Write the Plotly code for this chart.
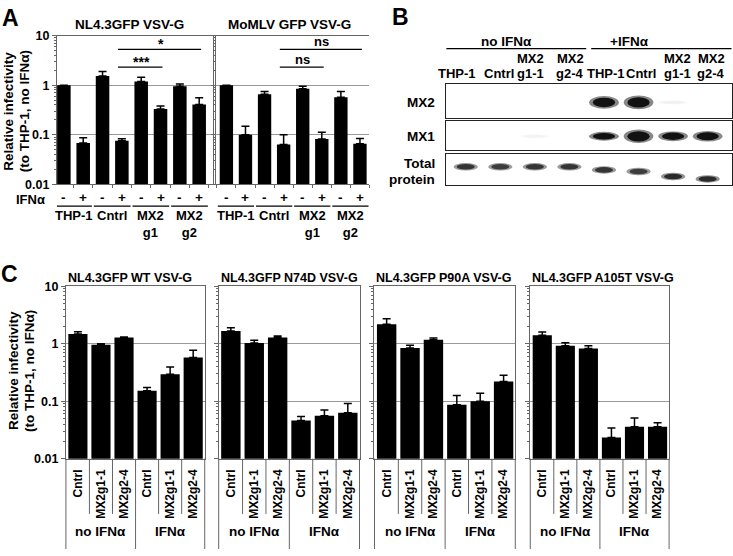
import plotly.graph_objects as go

W, H = 733, 556


def X(px):
    return px / W


def Y(py):
    return 1 - py / H


# ------------------------------------------------------------------ data
# Panel A
a_titles = ["NL4.3GFP VSV-G", "MoMLV GFP VSV-G"]
a_ifn = ["-", "+", "-", "+", "-", "+", "-", "+"]
a_groups = ["THP-1", "Cntrl", "MX2<br>g1", "MX2<br>g2"]
a_nl43_vals = [1.0, 0.068, 1.53, 0.076, 1.18, 0.33, 0.95, 0.41]
a_nl43_err = [0.0, 0.019, 0.36, 0.007, 0.26, 0.05, 0.11, 0.15]
a_momlv_vals = [1.0, 0.10, 0.656, 0.064, 0.85, 0.082, 0.573, 0.066]
a_momlv_err = [0.0, 0.048, 0.094, 0.036, 0.105, 0.031, 0.177, 0.018]
# significance: (from bar, to bar, label, level)
a_nl43_sig = [(3, 7, "*", 0), (3, 5, "***", 1)]
a_momlv_sig = [(3, 7, "ns", 0), (3, 5, "ns", 1)]

# Panel B (western blot, band darkness 0..1)
b_lanes = ["THP-1", "Cntrl", "g1-1", "g2-4", "THP-1", "Cntrl", "g1-1", "g2-4"]
b_lanes_top = ["", "", "MX2", "MX2", "", "", "MX2", "MX2"]
b_mx2 = [0.0, 0.0, 0.0, 0.0, 1.0, 1.0, 0.06, 0.0]
b_mx2_thick = [12, 12, 12, 12, 13, 14, 4, 12]
b_mx1 = [0.0, 0.0, 0.05, 0.0, 1.0, 1.0, 1.0, 1.0]
b_mx1_thick = [8, 8, 4, 8, 9, 14, 10, 11]
b_total = [0.85, 0.82, 0.85, 0.85, 0.85, 0.82, 0.9, 0.9]
b_total_pos = [0.58, 0.58, 0.58, 0.58, 0.48, 0.43, 0.27, 0.19]

# Panel C
c_titles = ["NL4.3GFP WT VSV-G", "NL4.3GFP N74D VSV-G",
            "NL4.3GFP P90A VSV-G", "NL4.3GFP A105T VSV-G"]
c_cats = ["Cntrl", "MX2g1-1", "MX2g2-4", "Cntrl", "MX2g1-1", "MX2g2-4"]
c_groups = ["no IFNα", "IFNα"]
c_vals = [
    [1.48, 0.96, 1.28, 0.152, 0.294, 0.578],
    [1.66, 1.03, 1.28, 0.046, 0.056, 0.063],
    [2.18, 0.845, 1.17, 0.087, 0.100, 0.221],
    [1.40, 0.925, 0.83, 0.0233, 0.036, 0.036],
]
c_err = [
    [0.14, 0.04, 0.03, 0.021, 0.10, 0.19],
    [0.23, 0.12, 0.08, 0.008, 0.014, 0.028],
    [0.54, 0.10, 0.09, 0.038, 0.038, 0.062],
    [0.20, 0.115, 0.095, 0.011, 0.015, 0.006],
]

# ------------------------------------------------------------------ style
AXC = "#666666"
GRIDC = "#9a9a9a"
FONT = "Liberation Sans, Arial, sans-serif"
minor_vals = [m * 10.0 ** e for e in (-2, -1, 0) for m in range(2, 10)]

fig = go.Figure()
layout = dict(
    width=W, height=H, margin=dict(l=0, r=0, t=0, b=0),
    paper_bgcolor="white", plot_bgcolor="white", showlegend=False,
    font=dict(family=FONT, size=12, color="black", weight="bold"),
)
annotations = []
shapes = []


def ann(text, x, y, xref="paper", yref="paper", size=13, angle=0,
        xanchor="center", yanchor="middle"):
    annotations.append(dict(text=text, x=x, y=y, xref=xref, yref=yref,
                            showarrow=False, textangle=angle,
                            xanchor=xanchor, yanchor=yanchor, borderpad=0,
                            font=dict(size=size, family=FONT, color="black",
                                      weight="bold")))


def line(x0, x1, y0, y1, xref="paper", yref="paper", color="black", width=1.2):
    shapes.append(dict(type="line", x0=x0, x1=x1, y0=y0, y1=y1, xref=xref,
                       yref=yref, line=dict(color=color, width=width)))


def log_axis(domain, labels, mirror):
    return dict(type="log", range=[-2, 1], domain=domain,
                tickvals=[0.01, 0.1, 1, 10], ticktext=["0.01", "0.1", "1", "10"],
                showticklabels=labels, ticks="outside", ticklen=4, tickcolor=AXC,
                showgrid=True, gridcolor=GRIDC, gridwidth=1,
                showline=True, linecolor=AXC, linewidth=1, mirror=mirror,
                zeroline=False, tickfont=dict(size=12.5),
                minor=dict(tickvals=minor_vals, ticks="outside", ticklen=2,
                           tickcolor=AXC, showgrid=False))


def bars(vals, err, xa, ya, width):
    fig.add_trace(go.Bar(
        x=list(range(len(vals))), y=vals, xaxis=xa, yaxis=ya, width=width,
        marker=dict(color="black", line=dict(width=0)),
        error_y=dict(type="data", symmetric=False, array=err,
                     arrayminus=[0] * len(err), color="black",
                     thickness=1.5, width=4),
        hoverinfo="y"))


# ------------------------------------------------------------------ panel A
a_dom_y = [Y(182), Y(29.3)]
a_sets = [
    ("x", "y", "", [57, 213], [-0.36, 7.7], a_nl43_vals, a_nl43_err, a_nl43_sig, True, 130),
    ("x2", "y2", "2", [216, 370], [-0.56, 7.5], a_momlv_vals, a_momlv_err, a_momlv_sig, False, 290),
]
for xa, ya, sfx, dom, rng, vals, err, sig, first, tx in a_sets:
    layout["xaxis" + sfx] = dict(
        domain=[X(dom[0]), X(dom[1])], range=rng, anchor=ya,
        tickvals=[i + 0.5 for i in range(-1, 8)], showticklabels=False,
        ticks="outside", ticklen=3, tickcolor=AXC, showgrid=False,
        showline=True, linecolor=AXC, mirror=True, zeroline=False)
    layout["yaxis" + sfx] = dict(log_axis(a_dom_y, first, first), anchor=xa)
    bars(vals, err, xa, ya, 0.7)
    ann(a_titles[0 if first else 1], X(tx), Y(18), size=13.5)
    for i, s in enumerate(a_ifn):
        ann(s, i, Y(195.5), xref=xa, size=13.5)
    for p in range(4):
        line(2 * p - 0.45, 2 * p + 1.45, Y(204.3), Y(204.3), xref=xa)
        ann(a_groups[p], 2 * p + 0.5, Y(205), xref=xa, yanchor="top")
    for s0, s1, lab, lev in sig:
        ly = [43.5, 61.7][lev]
        line(s0 - 0.2, s1 + 0.1, Y(ly), Y(ly), xref=xa)
        ty = ly - (5.5 if lab.startswith("*") else 8)
        ann(lab, (s0 + s1) / 2, Y(ty), xref=xa, size=13 if lab == "ns" else 14)

ann("IFNα", X(31), Y(197.5), size=13)
ann("Relative infectivity", X(8.5), Y(107), angle=-90, size=13.5)
ann("(to THP-1, no IFNα)", X(24), Y(107), angle=-90, size=13.5)

# ------------------------------------------------------------------ panel B
b_boxes = [(79.5, 113.5), (117, 147), (150.5, 182.5)]
b_xrange = [-0.56, 7.69]
b_label_px = [458, 500, 531, 571, 607, 642, 678, 712]
for r, (top, bot) in enumerate(b_boxes):
    n = 3 + r
    layout["xaxis%d" % n] = dict(domain=[X(447), X(732.5)], range=b_xrange,
                                 anchor="y%d" % n, showticklabels=False, ticks="",
                                 showgrid=False, zeroline=False, showline=True,
                                 linecolor="#222", linewidth=1, mirror=True)
    layout["yaxis%d" % n] = dict(domain=[Y(bot), Y(top)], range=[0, 1],
                                 anchor="x%d" % n, showticklabels=False, ticks="",
                                 showgrid=False, zeroline=False, showline=True,
                                 linecolor="#222", linewidth=1, mirror=True)


def band(row, lane, yc, half_w, half_h, dark):
    if dark <= 0:
        return
    n = 3 + row
    for scale, k in ((1.0, 0.5), (0.75, 1.0)):
        g = int(round(255 * (1 - 0.93 * dark * k)))
        shapes.append(dict(type="circle", xref="x%d" % n, yref="y%d" % n,
                           x0=lane - half_w * scale, x1=lane + half_w * scale,
                           y0=yc - half_h * scale, y1=yc + half_h * scale,
                           fillcolor="rgb(%d,%d,%d)" % (g, g, g),
                           line=dict(width=0), layer="above"))


for i in range(8):
    band(0, i, 0.46, 0.43, b_mx2_thick[i] / 68.0, b_mx2[i])
    band(1, i, 0.48, 0.43, b_mx1_thick[i] / 60.0, b_mx1[i])
    band(2, i, b_total_pos[i], 0.35, 0.12, b_total[i])
fig.add_trace(go.Scatter(x=list(range(8)), y=b_total_pos, xaxis="x5", yaxis="y5",
                         mode="markers", marker=dict(opacity=0), hoverinfo="skip"))

for i in range(8):
    ann(b_lanes[i], X(b_label_px[i]), Y(68.3))
    if b_lanes_top[i]:
        ann(b_lanes_top[i], X(b_label_px[i]), Y(53.3))
ann("no IFNα", X(507), Y(35), size=13.5)
ann("+IFNα", X(630), Y(35), size=13.5)
line(X(447), X(587), Y(42.7), Y(42.7))
line(X(592), X(732.5), Y(42.7), Y(42.7))
ann("MX2", X(437), Y(97.5), xanchor="right", size=13.5)
ann("MX1", X(437), Y(133), xanchor="right", size=13.5)
ann("Total", X(437), Y(160.5), xanchor="right", size=13.5)
ann("protein", X(437), Y(177), xanchor="right", size=13.5)

# ------------------------------------------------------------------ panel C
c_doms = [(66, 205), (219, 360), (375, 516), (531, 670)]
c_dom_y = [Y(463.3), Y(286.5)]
for k in range(4):
    n = 6 + k
    xa, ya = "x%d" % n, "y%d" % n
    layout["xaxis%d" % n] = dict(
        domain=[X(c_doms[k][0]), X(c_doms[k][1])], range=[-0.52, 5.5], anchor=ya,
        tickvals=list(range(6)), ticktext=c_cats, tickangle=-90, ticks="",
        ticklabelstandoff=5, tickfont=dict(size=12), showgrid=False,
        showline=True, linecolor=AXC, mirror=True, zeroline=False)
    layout["yaxis%d" % n] = dict(log_axis(c_dom_y, k == 0, True), anchor=xa)
    bars(c_vals[k], c_err[k], xa, ya, 0.83)
    ann(c_titles[k], X(c_doms[k][0] + 1), Y(278), xanchor="left", size=12.5)
    for b in (0.5, 1.5, 3.5, 4.5):
        line(b, b, Y(463.3), Y(520), xref=xa, color=AXC, width=1)
    line(2.5, 2.5, Y(463.3), Y(556), xref=xa, color=AXC, width=1)
    for d in (0, 1):
        line(d, d, Y(463.3), Y(556), xref=xa + " domain", color=AXC, width=1)
    for g, gname in enumerate(c_groups):
        ann(gname, 1 + 3 * g, Y(538.5), xref=xa, size=13.5)

ann("Relative infectivity", X(13.5), Y(373), angle=-90, size=13.5)
ann("(to THP-1, no IFNα)", X(29.5), Y(373), angle=-90, size=13.5)

# panel letters
ann("A", X(11), Y(11), size=23)
ann("B", X(401), Y(10), size=23)
ann("C", X(10), Y(274), size=23)

layout["annotations"] = annotations
layout["shapes"] = shapes
fig.update_layout(**layout)
fig.write_html("out.html",
               config={"displayModeBar": False},
               post_script="document.body.style.margin='0';"
                           "document.body.style.overflow='hidden';")
